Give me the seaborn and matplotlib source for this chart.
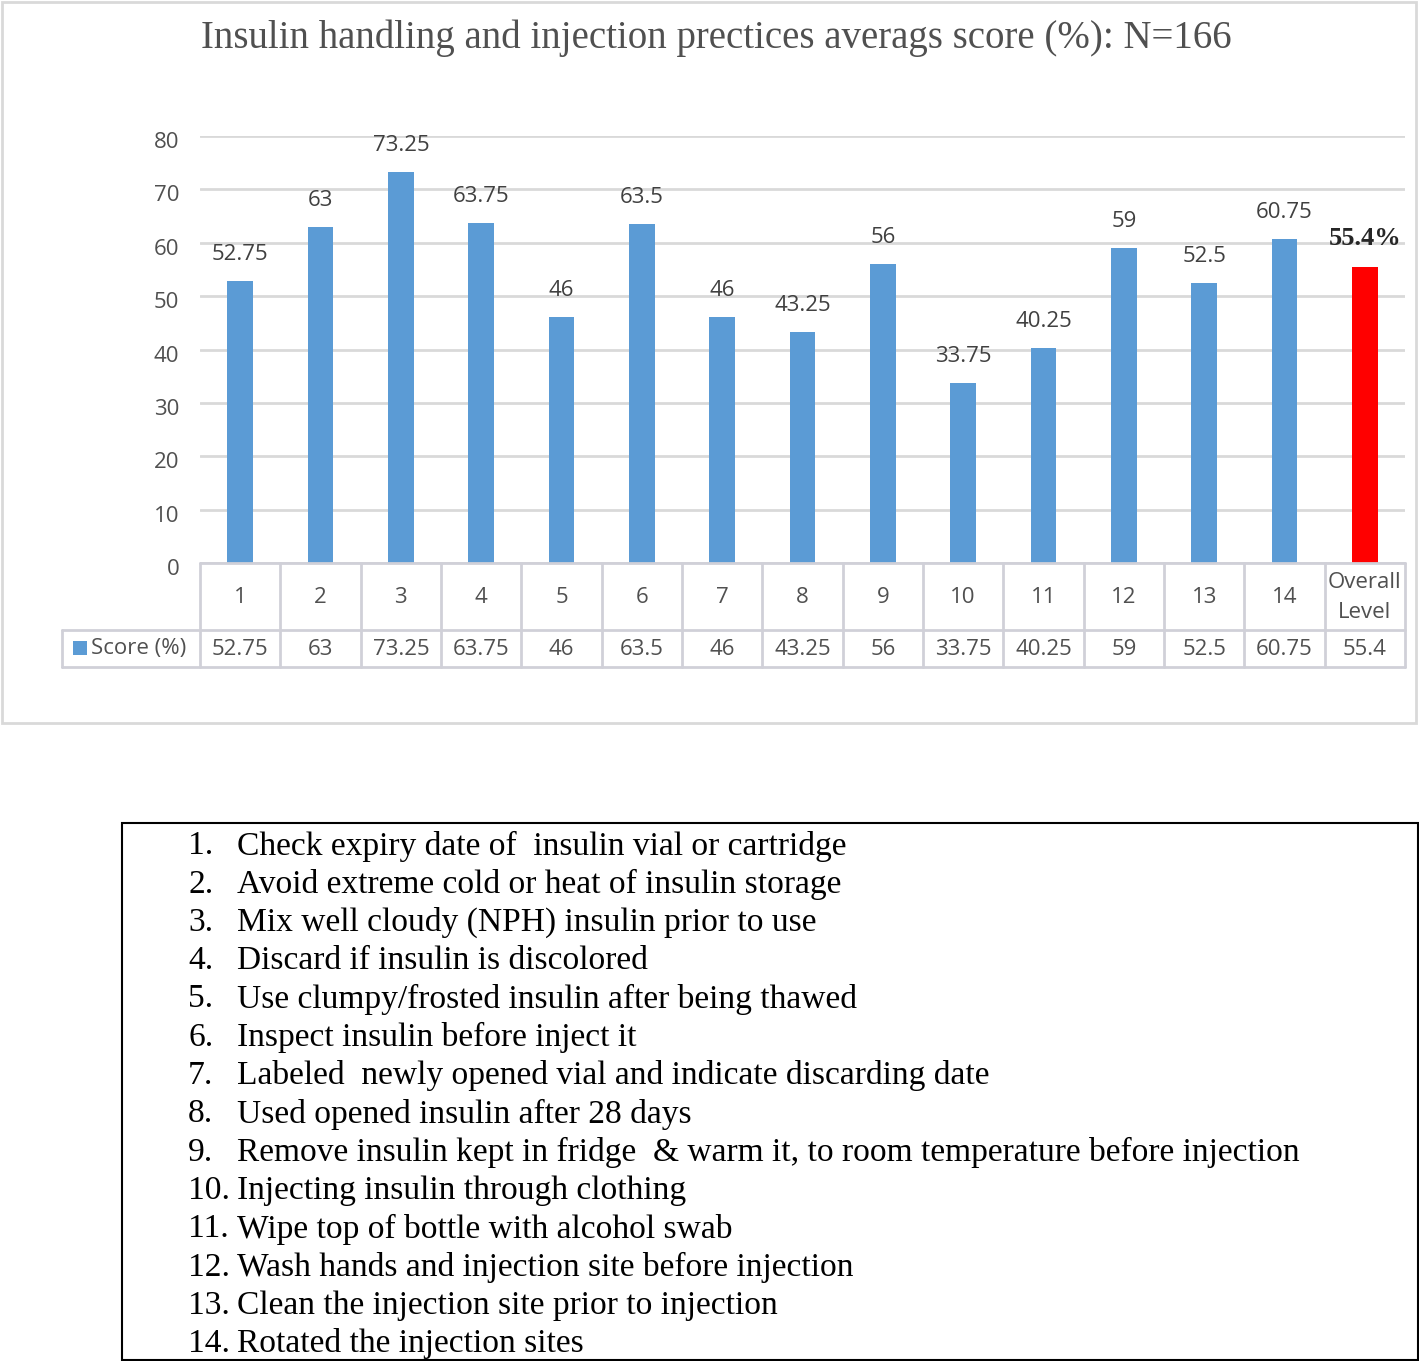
import matplotlib
matplotlib.use("Agg")
import matplotlib.pyplot as plt
import matplotlib.transforms as mtransforms
from matplotlib.patches import Rectangle
from matplotlib.lines import Line2D
import seaborn as sns
import pandas as pd

categories = ["1", "2", "3", "4", "5", "6", "7", "8", "9", "10", "11", "12", "13", "14", "Overall\nLevel"]
scores = [52.75, 63, 73.25, 63.75, 46, 63.5, 46, 43.25, 56, 33.75, 40.25, 59, 52.5, 60.75, 55.4]
table_values = ["52.75", "63", "73.25", "63.75", "46", "63.5", "46", "43.25", "56", "33.75",
                "40.25", "59", "52.5", "60.75", "55.4"]
bar_labels = ["52.75", "63", "73.25", "63.75", "46", "63.5", "46", "43.25", "56", "33.75",
              "40.25", "59", "52.5", "60.75", "55.4%"]
series_name = "Score (%)"
title = "Insulin handling and injection prectices averags score (%): N=166"
items = [
    "Check expiry date of  insulin vial or cartridge",
    "Avoid extreme cold or heat of insulin storage",
    "Mix well cloudy (NPH) insulin prior to use",
    "Discard if insulin is discolored",
    "Use clumpy/frosted insulin after being thawed",
    "Inspect insulin before inject it",
    "Labeled  newly opened vial and indicate discarding date",
    "Used opened insulin after 28 days",
    "Remove insulin kept in fridge  & warm it, to room temperature before injection",
    "Injecting insulin through clothing",
    "Wipe top of bottle with alcohol swab",
    "Wash hands and injection site before injection",
    "Clean the injection site prior to injection",
    "Rotated the injection sites",
]

BLUE = "#5b9bd5"
RED = "#ff0000"
GRID = "#d9d9d9"
TXT = "#505050"
SANS = ["Open Sans", "DejaVu Sans"]
SERIF = ["Liberation Serif", "DejaVu Serif"]

sns.set_theme(style="white")
plt.rcParams["font.family"] = SANS

W, H = 1419, 1361
fig = plt.figure(figsize=(W / 100, H / 100), dpi=100)
fig.patch.set_facecolor("white")

def fx(px):
    return px / W

def fy(py):
    return 1 - py / H

# plot area
left, right, top, bottom = 200, 1405, 136, 563
ax = fig.add_axes([fx(left), fy(bottom), fx(right - left), (bottom - top) / H])

df = pd.DataFrame({"cat": categories, "score": scores})
palette = [BLUE] * 14 + [RED]
sns.barplot(data=df, x="cat", y="score", hue="cat", palette=palette, legend=False,
            width=0.32, ax=ax, saturation=1, edgecolor="none")

ax.set_xlim(-0.5, len(categories) - 0.5)
ax.set_ylim(0, 80)
ax.set_yticks(range(0, 81, 10))
ax.set_yticklabels([str(v) for v in range(0, 81, 10)], fontsize=16, color=TXT)
ax.tick_params(axis="y", length=0, pad=15)
shift = mtransforms.ScaledTranslation(0, -4 / 100, fig.dpi_scale_trans)
for lab in ax.get_yticklabels():
    lab.set_transform(lab.get_transform() + shift)
ax.set_xticks([])
ax.set_xlabel("")
ax.set_ylabel("")
for s in ax.spines.values():
    s.set_visible(False)
ax.yaxis.grid(True, color=GRID, linewidth=2)
ax.set_axisbelow(True)
ax.set_facecolor("none")

# data labels
for i, (v, lab) in enumerate(zip(scores, bar_labels)):
    if i == len(scores) - 1:
        ax.text(i, v + 3.2, lab, ha="center", va="bottom", fontsize=19, fontweight="bold",
                family=SERIF, color="#262626")
    else:
        ax.text(i, v + 3.0, lab, ha="center", va="bottom", fontsize=16, color="#404040")

# data table below
trans = mtransforms.blended_transform_factory(ax.transData, ax.transAxes)
axh = bottom - top

def ay(py):
    return (bottom - py) / axh

row1_top, row1_bot, row2_bot = 563, 630, 667
legend_left_data = -0.5 + (62 - left) / ((right - left) / len(categories))
n = len(categories)
lc = "#d0d0d8"
lw = 2
for yy, x0 in [(row1_top, -0.5), (row1_bot, legend_left_data), (row2_bot, legend_left_data)]:
    ax.add_line(Line2D([x0, n - 0.5], [ay(yy), ay(yy)], transform=trans, color=lc, lw=lw, clip_on=False))
for k in range(n + 1):
    xx = k - 0.5
    ax.add_line(Line2D([xx, xx], [ay(row1_top), ay(row2_bot)], transform=trans, color=lc, lw=lw, clip_on=False))
ax.add_line(Line2D([legend_left_data, legend_left_data], [ay(row1_bot), ay(row2_bot)], transform=trans,
                   color=lc, lw=lw, clip_on=False))

for i, (c, tv) in enumerate(zip(categories, table_values)):
    ax.text(i, ay((row1_top + row1_bot) / 2 + 1), c, transform=trans, ha="center", va="center",
            fontsize=16, color=TXT, linespacing=1.55)
    ax.text(i, ay((row1_bot + row2_bot) / 2 + 1), tv, transform=trans, ha="center", va="center",
            fontsize=16, color=TXT)

# legend key in table
fig.patches.append(Rectangle((fx(73), fy(655)), fx(14), 14 / H, transform=fig.transFigure,
                             facecolor=BLUE, edgecolor="none"))
fig.text(fx(91), fy(648), series_name, ha="left", va="center", fontsize=16, color=TXT)

# title
fig.text(fx(716), fy(38), title, ha="center", va="center", fontsize=28, color=TXT, family=SERIF)

# chart outer frame
fig.patches.append(Rectangle((fx(2), fy(723)), fx(1414), 721 / H, transform=fig.transFigure,
                             facecolor="none", edgecolor=GRID, lw=2))

# lower legend box
fig.patches.append(Rectangle((fx(122), fy(1360)), fx(1296), 537 / H, transform=fig.transFigure,
                             facecolor="none", edgecolor="black", lw=1.5))
y0, dy = 846, 38.3
for k, it in enumerate(items):
    yy = y0 + k * dy
    fig.text(fx(188), fy(yy), f"{k + 1}.", ha="left", va="center", fontsize=24.1, color="black", family=SERIF)
    fig.text(fx(237), fy(yy), it, ha="left", va="center", fontsize=24.1, color="black", family=SERIF)

fig.savefig("out.png", dpi=100, facecolor="white")
